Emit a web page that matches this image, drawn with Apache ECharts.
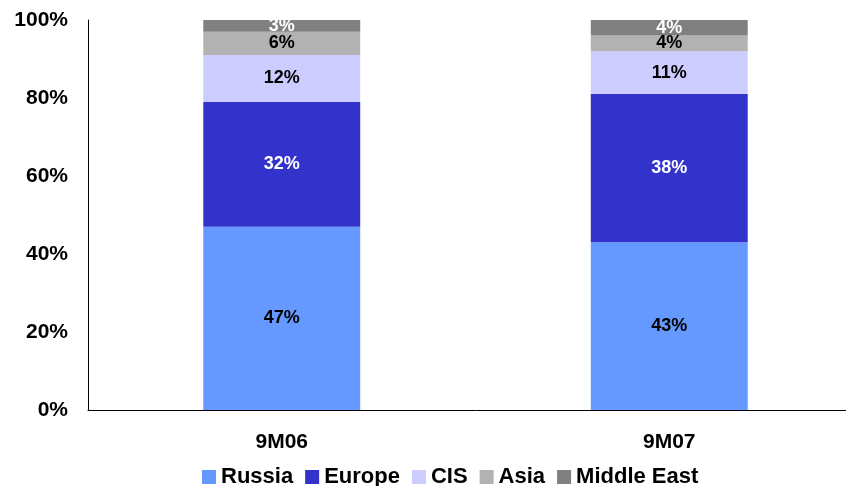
<!DOCTYPE html>
<html>
<head>
<meta charset="utf-8">
<script src="https://cdn.jsdelivr.net/npm/echarts@6/dist/echarts.min.js"></script>
<style>
html,body{margin:0;padding:0;background:#fff;overflow:hidden;}
#wrap{width:846px;height:486px;overflow:hidden;}
#chart{width:863px;height:486px;}
</style>
</head>
<body>
<div id="wrap"><div id="chart"></div></div>
<script>
// Sales split by region, share of total (%)
const categories = ['9M06', '9M07'];
const russia = [47, 43];
const europe = [32, 38];
const cis = [12, 11];
const asia = [6, 4];
const middleEast = [3, 4];
const yTicks = [0, 20, 40, 60, 80, 100];

const FONT = '"Liberation Sans", Arial, sans-serif';

function seg(name, data, color, labelColor) {
  return {
    name: name,
    type: 'bar',
    stack: 'total',
    data: data,
    barWidth: '40.5%',
    itemStyle: { color: color },
    label: {
      show: true,
      position: 'inside',
      formatter: '{c}%',
      color: labelColor,
      fontFamily: FONT,
      fontWeight: 'bold',
      fontSize: 18
    },
    emphasis: { disabled: true }
  };
}

const chart = echarts.init(document.getElementById('chart'));
chart.setOption({
  animation: false,
  backgroundColor: '#fff',
  grid: { left: 88, right: 0, top: 20, bottom: 76, containLabel: false },
  legend: {
    top: 466,
    left: 202,
    padding: 0,
    itemWidth: 14,
    itemHeight: 14,
    itemGap: 12,
    icon: 'rect',
    textStyle: { fontFamily: FONT, fontWeight: 'bold', fontSize: 22, color: '#000' },
    data: ['Russia', 'Europe', 'CIS', 'Asia', 'Middle East']
  },
  xAxis: {
    type: 'category',
    data: categories,
    axisLine: { lineStyle: { color: '#000', width: 1 } },
    axisTick: { show: false },
    axisLabel: { color: '#000', fontFamily: FONT, fontWeight: 'bold', fontSize: 21, margin: 22 }
  },
  yAxis: {
    type: 'value',
    min: 0,
    max: 100,
    interval: 20,
    axisLine: { show: true, lineStyle: { color: '#000', width: 1 } },
    axisTick: { show: false },
    splitLine: { show: false },
    axisLabel: {
      color: '#000', fontFamily: FONT, fontWeight: 'bold', fontSize: 21, margin: 20,
      formatter: function (v) { return yTicks.indexOf(v) >= 0 ? v + '%' : ''; }
    }
  },
  series: [
    seg('Russia', russia, '#6699FF', '#000'),
    seg('Europe', europe, '#3333CC', '#fff'),
    seg('CIS', cis, '#CCCCFF', '#000'),
    seg('Asia', asia, '#B2B2B2', '#000'),
    seg('Middle East', middleEast, '#808080', '#fff')
  ]
});
</script>
</body>
</html>
